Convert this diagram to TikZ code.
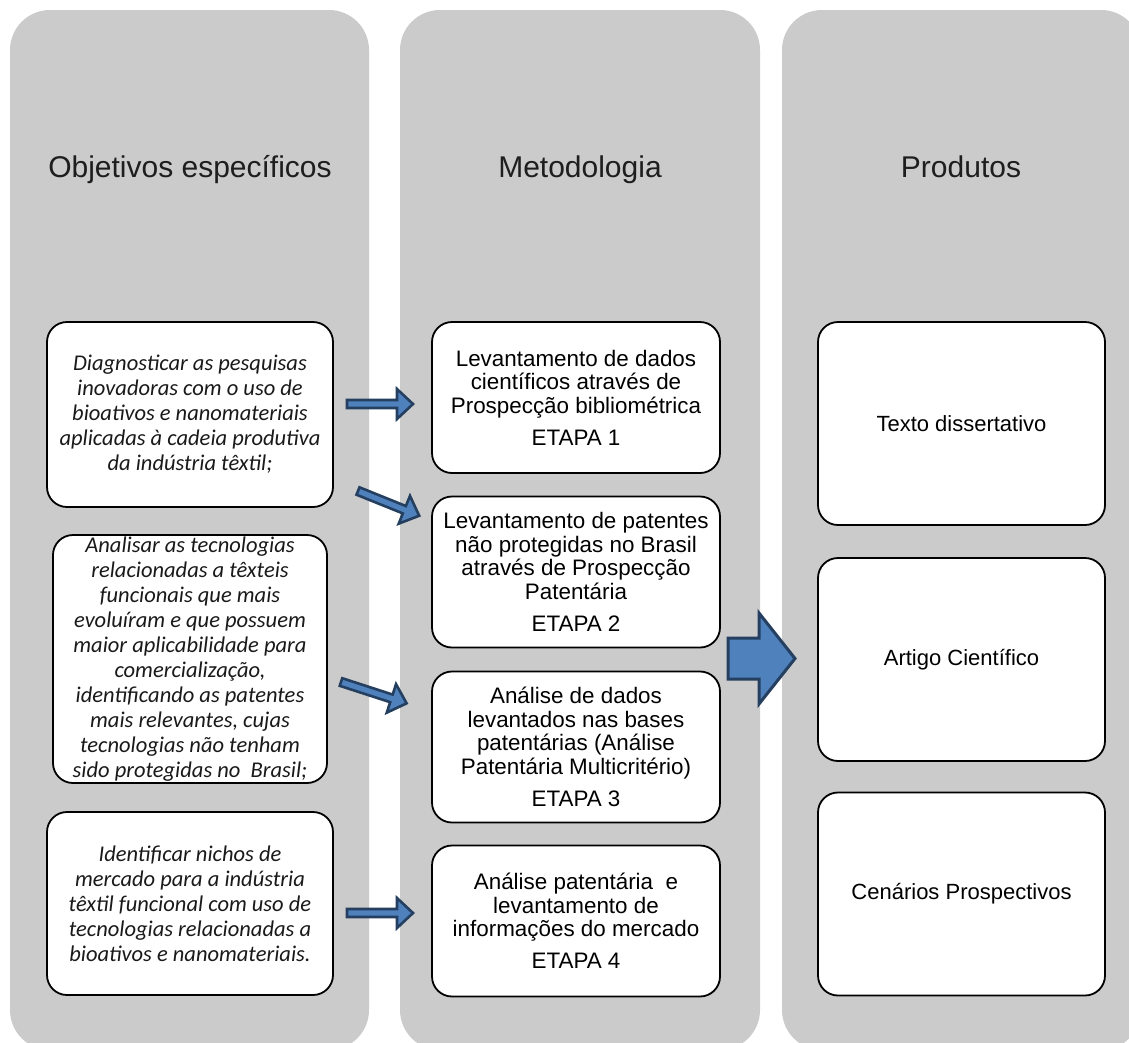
\documentclass[tikz,border=0pt]{standalone}
\usepackage{fontspec}
\setmainfont{Liberation Sans}
\newfontfamily\objfont{Carlito}
\definecolor{colgray}{HTML}{CBCBCB}
\definecolor{arrowfill}{HTML}{4F81BD}
\definecolor{arrowline}{HTML}{243F60}
\definecolor{objtext}{HTML}{1A1A1A}
\definecolor{headtext}{HTML}{1E1E1E}

% block arrow: #1 tail point, #2 angle, #3 length, #4 shaft half width,
% #5 head half width, #6 head length, #7 border width
\newcommand\blockarrow[7]{%
  \begin{scope}[shift={#1}, rotate=#2]
    \draw[fill=arrowfill, draw=arrowline, line width=#7, line join=miter]
      (0,-#4) -- (#3-#6,-#4) -- (#3-#6,-#5) -- (#3,0) -- (#3-#6,#5)
      -- (#3-#6,#4) -- (0,#4) -- cycle;
  \end{scope}}

\begin{document}
\begin{tikzpicture}[x=1pt, y=-1pt,
  column/.style={fill=colgray, draw=none, rounded corners=40},
  header/.style={font=\fontsize{30}{34}\selectfont, text=headtext,
    inner sep=0pt, anchor=base},
  box/.style={draw=black, line width=1.8pt, fill=white, rounded corners=20,
    inner sep=0pt, align=center},
  objbox/.style={box, font=\objfont\itshape\fontsize{22.5}{25}\selectfont, text=objtext},
  stepbox/.style={box, minimum width=288, minimum height=151,
    font=\fontsize{22.4}{23.5}\selectfont},
  prodbox/.style={box, minimum width=287, minimum height=203,
    font=\fontsize{22}{26}\selectfont}]

\useasboundingbox (0,0) rectangle (1129,1042);

% three columns
\fill[column] (10,10) rectangle (369,1050);
\fill[column] (400,10) rectangle (760,1050);
\fill[column] (782,10) rectangle (1141,1050);

% column headers
\node[header] (h1) at (190,177) {Objetivos específicos};
\node[header] (h2) at (580,177) {Metodologia};
\node[header] (h3) at (961,177) {Produtos};

% specific objectives
\node[objbox, minimum width=286, minimum height=185] (o1) at (190,414.5)
  {Diagnosticar as pesquisas\\ inovadoras com o uso de\\ bioativos e nanomateriais\\
   aplicadas à cadeia produtiva\\ da indústria têxtil;};
\node[objbox, minimum width=274, minimum height=248] (o2) at (190,659)
  {Analisar as tecnologias\\ relacionadas a têxteis\\ funcionais que mais\\
   evoluíram e que possuem\\ maior aplicabilidade para\\ comercialização,\\
   identificando as patentes\\ mais relevantes, cujas\\ tecnologias não tenham\\
   sido protegidas no\ \ Brasil;};
\node[objbox, minimum width=286, minimum height=183] (o3) at (190,903.5)
  {Identificar nichos de\\ mercado para a indústria\\ têxtil funcional com uso de\\
   tecnologias relacionadas a\\ bioativos e nanomateriais.};

% methodology steps
\node[stepbox] (m1) at (576,397.5)
  {Levantamento de dados\\ científicos através de\\ Prospecção bibliométrica\\[8.5pt] ETAPA 1};
\node[stepbox] (m2) at (576,572)
  {Levantamento de patentes\\ não protegidas no Brasil\\ através de Prospecção\\ Patentária\\[8.5pt] ETAPA 2};
\node[stepbox] (m3) at (576,747)
  {Análise de dados\\ levantados nas bases\\ patentárias (Análise\\ Patentária Multicritério)\\[8.5pt] ETAPA 3};
\node[stepbox] (m4) at (576,921)
  {Análise patentária\ \ e\\ levantamento de\\ informações do mercado\\[8.5pt] ETAPA 4};

% products
\node[prodbox] (p1) at (961.5,423.5) {Texto dissertativo};
\node[prodbox] (p2) at (961.5,659.5) {Artigo Científico};
\node[prodbox] (p3) at (961.5,894) {Cenários Prospectivos};

% arrows from objectives to steps
\coordinate (a1) at (347,404);
\coordinate (a2) at (358,491);
\coordinate (a3) at (341,682);
\coordinate (a4) at (347,913);
\blockarrow{(a1)}{0}{66}{4}{15}{16}{2.6pt}
\blockarrow{(a2)}{-22}{66}{4}{15}{16}{2.6pt}
\blockarrow{(a3)}{-18}{69}{4}{15}{16}{2.6pt}
\blockarrow{(a4)}{0}{66}{4}{15}{16}{2.6pt}

% large arrow from steps to products
\coordinate (big) at (728,658.5);
\blockarrow{(big)}{0}{67}{20.5}{45.5}{36}{3pt}

\end{tikzpicture}
\end{document}
